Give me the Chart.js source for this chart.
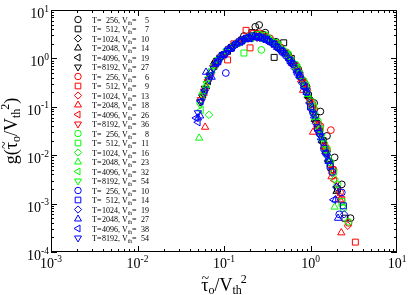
<!DOCTYPE html>
<html>
<head>
<meta charset="utf-8">
<script src="https://cdn.jsdelivr.net/npm/chart.js@4.4.1/dist/chart.umd.min.js"></script>
<style>
  html, body { margin: 0; padding: 0; background: #fff; }
  canvas { display: block; }
</style>
</head>
<body>
<canvas id="chart" width="409" height="295"></canvas>
<script>
// ---- Daten: Punkte (tau/Vth^2, g) je Serie ----
// schwarz
const k256 = [[0.12,1.7],[0.17,2.9],[0.23,4.5],[0.255,4.9],[0.3,3.4],[0.4,2.2],[0.55,1.2],[0.72,0.6],[0.9,0.26],[1.1,0.12],[1.3,0.08],[1.55,0.025],[1.9,0.009],[2.3,0.0025],[2.9,0.0005]];
const k512 = [[0.11,1.4],[0.16,2.4],[0.21,3.4],[0.28,3.1],[0.38,1.05],[0.49,2.1],[0.6,1.0],[0.75,0.45],[0.95,0.17],[1.15,0.06],[1.4,0.02],[1.7,0.0065],[2.05,0.002],[2.5,0.0005]];
const k1024 = [[0.095,1.1],[0.13,1.9],[0.18,2.6],[0.24,3.2],[0.3,2.8],[0.39,2.1],[0.5,1.35],[0.65,0.75],[0.8,0.38],[0.97,0.15],[1.17,0.05],[1.4,0.018],[1.65,0.0072],[2.0,0.0022]];
const k2048 = [[0.062,0.26],[0.077,0.84],[0.083,0.85],[0.1,1.25],[0.13,1.85],[0.17,2.5],[0.22,2.9],[0.28,2.7],[0.36,2.2],[0.46,1.5],[0.6,0.85],[0.76,0.42],[0.93,0.17],[1.12,0.055],[1.35,0.02],[1.6,0.008],[2.0,0.0018]];
const k4096 = [[0.058,0.18],[0.066,0.34],[0.078,0.7],[0.092,1.1],[0.115,1.65],[0.15,2.3],[0.19,2.7],[0.25,2.9],[0.32,2.5],[0.41,1.85],[0.52,1.2],[0.66,0.7],[0.82,0.32],[1.0,0.12],[1.2,0.043],[1.45,0.014],[1.75,0.005]];
const k8192 = [[0.053,0.126],[0.056,0.16],[0.06,0.24],[0.068,0.45],[0.08,0.8],[0.097,1.2],[0.125,1.75],[0.16,2.35],[0.21,2.75],[0.27,2.7],[0.34,2.3],[0.43,1.7],[0.55,1.1],[0.7,0.6],[0.86,0.27],[1.05,0.09],[1.27,0.032],[1.55,0.011]];
// rot
const r256 = [[0.14,2.0],[0.2,3.0],[0.26,3.3],[0.34,2.6],[0.45,1.7],[0.58,1.0],[0.75,0.5],[0.92,0.22],[1.1,0.09],[1.3,0.04],[1.72,0.033],[1.55,0.013],[1.85,0.005],[2.2,0.0017],[2.75,0.0004]];
const r512 = [[0.11,0.93],[0.13,2.0],[0.18,3.8],[0.2,1.65],[0.22,3.3],[0.3,2.8],[0.4,2.0],[0.52,1.3],[0.68,0.7],[0.85,0.3],[1.05,0.11],[1.25,0.04],[1.5,0.014],[1.8,0.005],[2.3,0.0012],[3.3,0.00016]];
const r1024 = [[0.085,0.9],[0.11,1.5],[0.15,2.3],[0.2,2.8],[0.26,3.0],[0.33,2.5],[0.42,1.9],[0.54,1.15],[0.7,0.62],[0.86,0.29],[1.05,0.1],[1.25,0.036],[1.5,0.012],[1.8,0.0042],[2.2,0.0014],[2.7,0.00035]];
const r2048 = [[0.0605,0.038],[0.07,0.5],[0.085,0.95],[0.105,1.35],[0.135,1.95],[0.175,2.5],[0.23,2.8],[0.29,2.6],[0.37,2.1],[0.48,1.4],[0.62,0.78],[0.78,0.36],[0.82,0.22],[1.07,0.03],[1.2,0.042],[1.45,0.015],[1.75,0.0036],[2.2,0.0012],[2.27,0.00025]];
const r4096 = [[0.06,0.2],[0.068,0.4],[0.08,0.75],[0.098,1.2],[0.125,1.75],[0.16,2.4],[0.21,2.8],[0.27,2.75],[0.35,2.2],[0.45,1.6],[0.57,1.0],[0.72,0.55],[0.88,0.24],[1.08,0.08],[1.3,0.028],[1.55,0.011],[1.9,0.003]];
const r8192 = [[0.054,0.14],[0.059,0.21],[0.065,0.33],[0.075,0.65],[0.09,1.05],[0.115,1.6],[0.145,2.15],[0.19,2.6],[0.24,2.75],[0.31,2.45],[0.4,1.9],[0.51,1.3],[0.65,0.72],[0.8,0.35],[0.98,0.13],[1.18,0.045],[1.42,0.016]];
// gruen
const g256 = [[0.15,2.1],[0.21,2.9],[0.27,1.5],[0.3,3.0],[0.4,2.1],[0.52,1.35],[0.67,0.75],[0.84,0.34],[1.02,0.13],[1.22,0.05],[1.45,0.017],[1.7,0.0072],[2.05,0.0025],[2.4,0.0008],[2.75,0.00042]];
const g512 = [[0.12,1.6],[0.17,1.29],[0.2,2.8],[0.25,3.1],[0.32,2.6],[0.42,1.9],[0.55,1.2],[0.7,0.65],[0.88,0.28],[1.08,0.1],[1.3,0.035],[1.55,0.013],[1.85,0.0045],[2.3,0.0011]];
const g1024 = [[0.067,0.068],[0.09,1.05],[0.12,1.65],[0.16,2.35],[0.21,2.75],[0.27,2.8],[0.35,2.3],[0.45,1.65],[0.58,1.0],[0.74,0.5],[0.9,0.21],[1.1,0.075],[1.32,0.026],[1.58,0.0095],[1.9,0.0032],[2.35,0.0009]];
const g2048 = [[0.0516,0.0226],[0.062,0.28],[0.072,0.55],[0.086,0.95],[0.105,1.4],[0.135,1.95],[0.175,2.45],[0.23,2.75],[0.29,2.65],[0.37,2.1],[0.47,1.5],[0.6,0.9],[0.76,0.43],[0.93,0.18],[1.13,0.06],[1.36,0.022],[1.65,0.0075],[1.9,0.00085]];
const g4096 = [[0.0544,0.086],[0.058,0.2],[0.066,0.4],[0.078,0.72],[0.094,1.15],[0.12,1.7],[0.155,2.3],[0.2,2.7],[0.26,2.85],[0.33,2.4],[0.42,1.8],[0.54,1.15],[0.69,0.6],[0.85,0.27],[1.04,0.095],[1.25,0.034],[1.5,0.012]];
const g8192 = [[0.053,0.11],[0.057,0.17],[0.063,0.3],[0.072,0.55],[0.086,0.95],[0.107,1.4],[0.135,1.95],[0.175,2.45],[0.22,2.7],[0.28,2.6],[0.36,2.15],[0.46,1.55],[0.59,0.95],[0.74,0.5],[0.9,0.21],[1.1,0.07],[1.33,0.024]];
// blau
const b256 = [[0.092,1.1],[0.105,0.5],[0.11,1.5],[0.135,1.95],[0.16,2.4],[0.19,2.7],[0.23,2.85],[0.28,2.7],[0.34,2.2],[0.42,1.65],[0.52,1.15],[0.63,0.75],[0.76,0.42],[0.9,0.2],[1.07,0.075],[1.27,0.028],[1.5,0.011],[1.78,0.0045],[2.3,0.0017],[2.15,0.0006]];
const b512 = [[0.085,0.85],[0.1,1.2],[0.12,1.6],[0.15,2.2],[0.18,2.6],[0.21,2.9],[0.25,2.8],[0.31,2.5],[0.38,1.95],[0.47,1.4],[0.58,0.9],[0.7,0.52],[0.84,0.27],[1.0,0.1],[1.2,0.037],[1.43,0.014],[1.68,0.006],[2.4,0.0009]];
const b1024 = [[0.07,0.5],[0.085,0.85],[0.105,1.25],[0.13,1.8],[0.16,2.3],[0.2,2.65],[0.24,2.7],[0.29,2.5],[0.36,2.05],[0.44,1.5],[0.55,1.0],[0.66,0.62],[0.8,0.31],[0.97,0.12],[1.15,0.046],[1.37,0.019],[1.6,0.0078],[2.0,0.0022],[2.45,0.0006]];
const b2048 = [[0.05,0.059],[0.053,0.065],[0.062,0.52],[0.072,0.41],[0.08,0.8],[0.095,1.15],[0.115,1.6],[0.14,2.0],[0.175,2.45],[0.22,2.75],[0.27,2.65],[0.33,2.3],[0.41,1.7],[0.5,1.25],[0.61,0.8],[0.74,0.45],[0.9,0.2],[1.1,0.065],[1.32,0.023],[1.62,0.0075],[1.94,0.0012],[2.08,0.0005]];
const b4096 = [[0.0476,0.0587],[0.05,0.048],[0.054,0.13],[0.06,0.22],[0.07,0.45],[0.082,0.8],[0.1,1.2],[0.125,1.7],[0.155,2.2],[0.195,2.6],[0.24,2.75],[0.3,2.45],[0.37,2.0],[0.46,1.45],[0.57,0.92],[0.7,0.52],[0.85,0.25],[1.03,0.088],[1.25,0.031],[1.5,0.011],[1.85,0.0012]];
const b8192 = [[0.05,0.075],[0.055,0.13],[0.06,0.2],[0.067,0.36],[0.076,0.62],[0.09,1.0],[0.11,1.45],[0.135,1.9],[0.17,2.35],[0.21,2.65],[0.26,2.7],[0.32,2.35],[0.4,1.8],[0.49,1.3],[0.6,0.82],[0.73,0.47],[0.88,0.22],[1.07,0.072],[1.3,0.025],[1.55,0.0095]];

// Legende
const temps = [256, 512, 1024, 2048, 4096, 8192];
const vthBlack = [5, 7, 10, 14, 19, 27];
const vthRed = [6, 9, 13, 18, 26, 36];
const vthGreen = [8, 11, 16, 23, 32, 54];
const vthBlue = [10, 14, 19, 27, 38, 54];

// Achsen (Exponenten)
const xTickExps = [-3, -2, -1, 0, 1];
const yTickExps = [-4, -3, -2, -1, 0, 1];

const groups = [
    { color: '#000000', vth: vthBlack, sets: [k256, k512, k1024, k2048, k4096, k8192] },
    { color: '#ff0000', vth: vthRed, sets: [r256, r512, r1024, r2048, r4096, r8192] },
    { color: '#00ff00', vth: vthGreen, sets: [g256, g512, g1024, g2048, g4096, g8192] },
    { color: '#0000ff', vth: vthBlue, sets: [b256, b512, b1024, b2048, b4096, b8192] }
];
// Kreis, Quadrat, Raute, Dreieck hoch/links/runter
const shapes = [
    { style: 'circle', rot: 0, r: 3.4 },
    { style: 'rect', rot: 0, r: 4.2 },
    { style: 'rectRot', rot: 0, r: 3.8 },
    { style: 'triangle', rot: 0, r: 4.2 },
    { style: 'triangle', rot: -90, r: 4.2 },
    { style: 'triangle', rot: 180, r: 4.2 }
];

const SERIF = '"Liberation Serif", "Times New Roman", serif';
const datasets = [];
const legendRows = [];
groups.forEach(g => {
    g.sets.forEach((pts, i) => {
        const sh = shapes[i];
        datasets.push({
            label: `T=${temps[i]}, Vth=${g.vth[i]}`,
            data: pts.map(p => ({ x: p[0], y: p[1] })),
            pointStyle: sh.style,
            rotation: sh.rot,
            pointRadius: sh.r,
            pointBorderWidth: 1,
            borderColor: g.color,
            backgroundColor: 'rgba(0,0,0,0)',
            showLine: false,
            order: 100 - datasets.length   // spaetere Serien oben
        });
        legendRows.push({ color: g.color, shape: sh, T: temps[i], V: g.vth[i] });
    });
});

// 10^n Beschriftung
function drawPow(ctx, exp, x, y, align) {
    ctx.font = '14px ' + SERIF;
    const wb = ctx.measureText('10').width;
    ctx.font = '9.5px ' + SERIF;
    const ws = ctx.measureText(String(exp)).width;
    const x0 = align === 'center' ? x - (wb + ws) / 2 : x - (wb + ws);
    ctx.textAlign = 'left';
    ctx.textBaseline = 'alphabetic';
    ctx.font = '14px ' + SERIF;
    ctx.fillText('10', x0, y);
    ctx.font = '9.5px ' + SERIF;
    ctx.fillText(String(exp), x0 + wb, y - 6.5);
}

// tau~_o / V_th^2 (Segmente mit Hoch-/Tiefstellung)
function tauSegs(big, small) {
    return [
        { t: 'τ', f: big, dy: 0, tilde: true },
        { t: 'o', f: small, dy: 3 },
        { t: '/V', f: big, dy: 0 },
        { t: 'th', f: small, dy: 3 },
        { t: '2', f: small, dy: -8, back: 1 }
    ];
}
function segWidth(ctx, segs) {
    let w = 0;
    segs.forEach(s => { ctx.font = s.f + 'px ' + SERIF; w += ctx.measureText(s.t).width - (s.back || 0); });
    return w;
}
function drawSegs(ctx, segs, x, y) {
    ctx.textAlign = 'left';
    ctx.textBaseline = 'alphabetic';
    segs.forEach(s => {
        ctx.font = s.f + 'px ' + SERIF;
        const w = ctx.measureText(s.t).width;
        x -= (s.back || 0);
        ctx.fillText(s.t, x, y + s.dy);
        if (s.tilde) {
            ctx.font = Math.round(s.f * 0.8) + 'px ' + SERIF;
            const tw = ctx.measureText('~').width;
            ctx.fillText('~', x + (w - tw) / 2 + 0.5, y - s.f * 0.42);
        }
        x += w;
    });
    return x;
}

const framePlugin = {
    id: 'framePlugin',
    afterDraw(chart) {
        const ctx = chart.ctx, a = chart.chartArea;
        const xs = chart.scales.x, ys = chart.scales.y;
        ctx.save();
        ctx.strokeStyle = '#000';
        ctx.fillStyle = '#000';
        ctx.lineWidth = 1;
        ctx.strokeRect(a.left + 0.5, a.top + 0.5, a.right - a.left - 1, a.bottom - a.top - 1);

        // Ticks innen, alle vier Seiten
        ctx.beginPath();
        for (let e = -3; e <= 0; e++) {
            for (let m = 1; m <= 9; m++) {
                const px = Math.round(xs.getPixelForValue(m * Math.pow(10, e))) + 0.5;
                const len = m === 1 ? 6 : 3;
                ctx.moveTo(px, a.bottom); ctx.lineTo(px, a.bottom - len);
                ctx.moveTo(px, a.top); ctx.lineTo(px, a.top + len);
            }
        }
        for (let e = -4; e <= 0; e++) {
            for (let m = 1; m <= 9; m++) {
                const py = Math.round(ys.getPixelForValue(m * Math.pow(10, e))) + 0.5;
                const len = m === 1 ? 6 : 3;
                ctx.moveTo(a.left, py); ctx.lineTo(a.left + len, py);
                ctx.moveTo(a.right, py); ctx.lineTo(a.right - len, py);
            }
        }
        ctx.stroke();

        // Tick-Beschriftung
        xTickExps.forEach(e => drawPow(ctx, e, xs.getPixelForValue(Math.pow(10, e)), a.bottom + 16, 'center'));
        yTickExps.forEach(e => drawPow(ctx, e, a.left - 2, ys.getPixelForValue(Math.pow(10, e)) + 8, 'right'));

        // x-Titel
        const xt = tauSegs(18, 12);
        const xw = segWidth(ctx, xt);
        drawSegs(ctx, xt, (a.left + a.right) / 2 - xw / 2, 291);

        // y-Titel (gedreht)
        const yt = [{ t: 'g(', f: 18, dy: 0 }].concat(tauSegs(18, 12)).concat([{ t: ')', f: 18, dy: 0 }]);
        const yw = segWidth(ctx, yt);
        ctx.save();
        ctx.translate(17, (a.top + a.bottom) / 2);
        ctx.rotate(-Math.PI / 2);
        drawSegs(ctx, yt, -yw / 2, 0);
        ctx.restore();

        // Legende (offene Symbole)
        legendRows.forEach((row, i) => {
            const y = 19.5 + i * 9.5;
            ctx.strokeStyle = row.color;
            ctx.fillStyle = 'rgba(0,0,0,0)';
            ctx.lineWidth = 1;
            Chart.helpers.drawPoint(ctx, {
                pointStyle: row.shape.style,
                rotation: row.shape.rot,
                radius: row.shape.r * 0.95,
                borderWidth: 1
            }, 78, y);
            ctx.fillStyle = '#000';
            ctx.textBaseline = 'alphabetic';
            const base = y + 3;
            ctx.font = '8px ' + SERIF;
            ctx.textAlign = 'left';
            ctx.fillText('T=', 92, base);
            ctx.textAlign = 'right';
            ctx.fillText(String(row.T), 118, base);
            ctx.textAlign = 'left';
            ctx.fillText(', V', 118, base);
            let x = 118 + ctx.measureText(', V').width;
            ctx.font = '5.5px ' + SERIF;
            ctx.fillText('th', x, base + 2);
            x += ctx.measureText('th').width;
            ctx.font = '8px ' + SERIF;
            ctx.fillText('=', x, base);
            ctx.textAlign = 'right';
            ctx.fillText(String(row.V), 149, base);
        });
        ctx.restore();
    }
};

new Chart(document.getElementById('chart'), {
    type: 'scatter',
    data: { datasets },
    options: {
        responsive: false,
        animation: false,
        devicePixelRatio: 1,
        layout: { padding: { left: 51, right: 12, top: 10, bottom: 43 } },
        plugins: { legend: { display: false }, tooltip: { enabled: false } },
        scales: {
            x: { type: 'logarithmic', min: 1e-3, max: 10, display: false },
            y: { type: 'logarithmic', min: 1e-4, max: 10, display: false }
        }
    },
    plugins: [framePlugin]
});
</script>
</body>
</html>
